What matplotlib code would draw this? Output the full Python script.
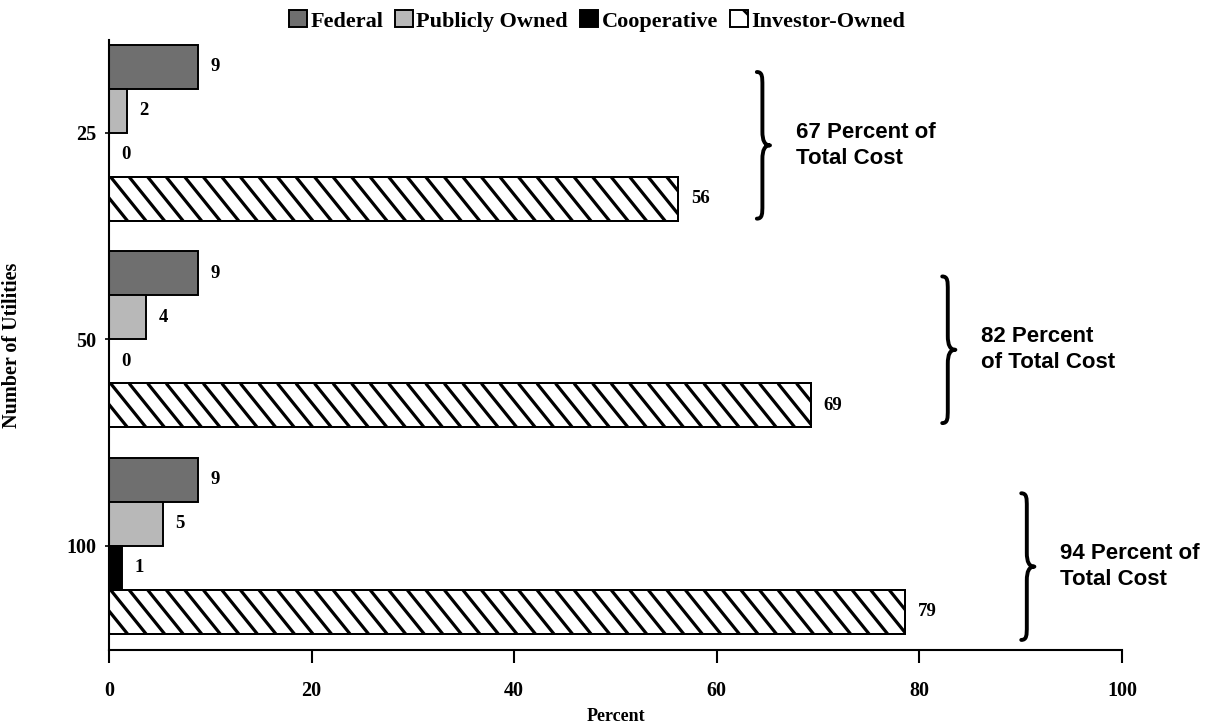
import matplotlib
matplotlib.use('Agg')
import matplotlib.pyplot as plt
from matplotlib.path import Path
from matplotlib.patches import PathPatch, Patch
import numpy as np

# ---- data ----
groups = ['25', '50', '100']
series = ['Federal', 'Publicly Owned', 'Cooperative', 'Investor-Owned']
federal = [8.8, 8.8, 8.8]
publicly_owned = [1.8, 3.7, 5.3]
cooperative = [0.0, 0.0, 1.3]
investor_owned = [56.2, 69.3, 78.6]
xticks = [0, 20, 40, 60, 80, 100]

# annotation placement (brace x position in data units)
brace_x = [64.5, 82.8, 90.6]
brace_yshift = [0.06, 0.05, 0.10]
text_lines = [("{} Percent of", "Total Cost"),
              ("{} Percent", "of Total Cost"),
              ("{} Percent of", "Total Cost")]

SERIF = 'Liberation Serif'
SANS = 'Liberation Sans'
plt.rcParams['hatch.linewidth'] = 2.0

fig = plt.figure(figsize=(12.26, 7.25), dpi=100)
ax = fig.add_axes([0.0889, 0.1034, 0.8263, 0.8414])

h = 0.213
offsets = [-1.5 * h, -0.5 * h, 0.5 * h, 1.5 * h]
ypos = np.arange(len(groups))
data = [federal, publicly_owned, cooperative, investor_owned]
styles = [
    dict(facecolor='#6f6f6f', edgecolor='black', hatch=None),
    dict(facecolor='#b8b8b8', edgecolor='black', hatch=None),
    dict(facecolor='black', edgecolor='black', hatch=None),
    dict(facecolor='white', edgecolor='black', hatch=None),
]

ax.set_xlim(0, 100)
ax.set_ylim(2.504, -0.45)

for k, (vals, off, st) in enumerate(zip(data, offsets, styles)):
    yc = ypos + off
    bars = ax.barh(yc, vals, height=h, linewidth=1.4, zorder=2, **st)
    if k == 3:
        # diagonal hatching clipped to each bar
        step = 1.83         # horizontal spacing of hatch lines (data units)
        slant = 3.5         # horizontal run of one hatch line over the bar height
        for bar, v, y in zip(bars, vals, yc):
            ytop, ybot = y - h / 2, y + h / 2
            for xs in np.arange(-slant, v + step, step):
                ln, = ax.plot([xs, xs + slant], [ytop, ybot], color='black',
                              lw=2.3, solid_capstyle='butt', zorder=2.5)
                ln.set_clip_path(bar)
            ax.barh(y, v, height=h, facecolor='none', edgecolor='black',
                    linewidth=1.4, zorder=3)
    for v, y in zip(vals, yc):
        ax.annotate(f"{v:.0f}", xy=(v, y), xytext=(9, 0), textcoords='offset points',
                    va='center', ha='left', fontfamily=SERIF, fontweight='bold',
                    fontsize=13.5)

ax.set_xticks(xticks)
ax.set_xticklabels([str(t) for t in xticks], fontfamily=SERIF, fontweight='bold', fontsize=14.5)
ax.set_yticks(ypos)
ax.set_yticklabels(groups, fontfamily=SERIF, fontweight='bold', fontsize=14.5)
ax.tick_params(axis='x', direction='out', length=9, width=1.5, pad=13)
ax.tick_params(axis='y', direction='out', length=3, width=1.2, pad=6)
for s in ['top', 'right']:
    ax.spines[s].set_visible(False)
for s in ['left', 'bottom']:
    ax.spines[s].set_linewidth(1.5)

ax.set_xlabel('Percent', fontfamily=SERIF, fontweight='bold', fontsize=13, labelpad=5)
ax.set_ylabel('Number of Utilities', fontfamily=SERIF, fontweight='bold', fontsize=14.5, labelpad=32)

# totals from rounded labels
totals = [int(round(a)) + int(round(b)) + int(round(c)) + int(round(d))
          for a, b, c, d in zip(federal, publicly_owned, cooperative, investor_owned)]


def brace(ax, x, yc, half, w_hook=0.55, w_tip=0.75, e=0.045):
    y0, y1 = yc - half, yc + half
    verts = [
        (x - w_hook, y0),
        (x, y0), (x, y0 + e * 0.5), (x, y0 + e * 1.5),
        (x, yc - e * 1.5),
        (x, yc - e * 0.5), (x + w_tip * 0.3, yc), (x + w_tip, yc),
        (x + w_tip * 0.3, yc), (x, yc + e * 0.5), (x, yc + e * 1.5),
        (x, y1 - e * 1.5),
        (x, y1 - e * 0.5), (x, y1), (x - w_hook, y1),
    ]
    codes = [Path.MOVETO,
             Path.CURVE4, Path.CURVE4, Path.CURVE4,
             Path.LINETO,
             Path.CURVE4, Path.CURVE4, Path.CURVE4,
             Path.CURVE4, Path.CURVE4, Path.CURVE4,
             Path.LINETO,
             Path.CURVE4, Path.CURVE4, Path.CURVE4]
    ax.add_patch(PathPatch(Path(verts, codes), facecolor='none', edgecolor='black',
                           linewidth=2.8, capstyle='round', joinstyle='round',
                           clip_on=False))


for i, (bx, ys, tl, tot) in enumerate(zip(brace_x, brace_yshift, text_lines, totals)):
    yc = ypos[i] + ys
    brace(ax, bx, yc, 0.355)
    ax.text(bx + 3.3, yc, tl[0].format(tot) + "\n" + tl[1], ha='left', va='center',
            fontfamily=SANS, fontweight='bold', fontsize=16, linespacing=1.3,
            clip_on=False)

handles = [Patch(facecolor=st['facecolor'], edgecolor='black',
                 hatch=('\\' if k == 3 else None), linewidth=1.4)
           for k, st in enumerate(styles)]
fig.legend(handles, series, loc='center', bbox_to_anchor=(0.487, 0.971), ncol=4,
           frameon=False, handlelength=0.8, handleheight=0.8, handletextpad=0.15,
           columnspacing=0.55, prop=dict(family=SERIF, weight='bold', size=16))

fig.savefig('out.png', dpi=100)
